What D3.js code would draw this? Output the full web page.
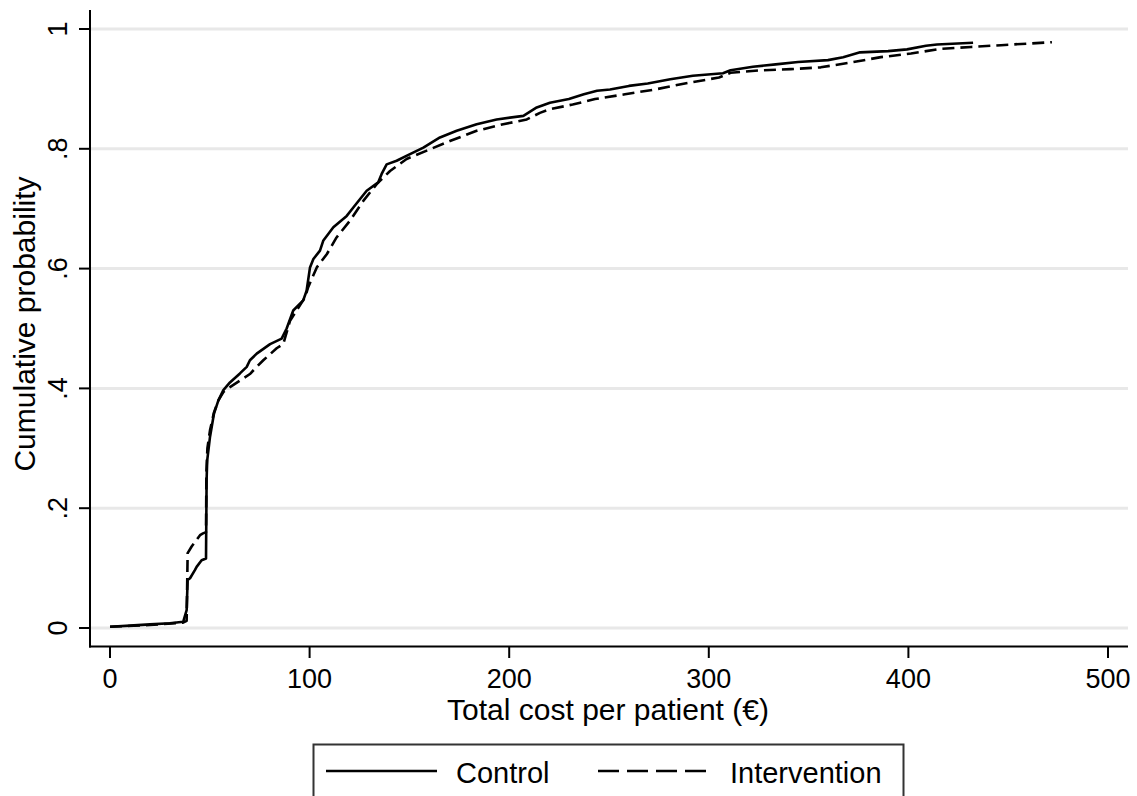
<!DOCTYPE html>
<html>
<head>
  <meta charset="utf-8">
  <title>Cumulative probability of total cost</title>
  <style>
    body { margin: 0; background: #fff; }
    svg { display: block; font-family: "Liberation Sans", Arial, sans-serif; }
    .grid line { stroke: #e8e8e8; stroke-width: 3px; }
    .axis path, .axis line { stroke: #000; stroke-width: 2px; }
    .curve { fill: none; stroke: #000; stroke-width: 2.6px; stroke-linejoin: round; }
    .curve.dash { stroke-dasharray: 12 6; }
  </style>
</head>
<body>
  <svg id="chart"></svg>

  <script src="https://d3js.org/d3.v7.min.js"></script>
  <script>
    // cost (€) and cumulative probability
    const controlCost = [0, 10, 20, 30, 36.7, 38.4, 38.9, 40.1, 42.6, 43.4, 45.9, 48.1, 48.4, 48.7,
      50.1, 52.1, 54.3, 56.8, 60.1, 65.1, 68.5, 70.1, 73.5, 80.2, 86.0, 88.5, 91.8, 96.8, 98.5,
      100.2, 101.9, 105.2, 106.9, 111.9, 118.6, 121.9, 128.6, 134.4, 136.1, 138.6, 143.6, 150.3,
      157.0, 165.3, 173.7, 183.7, 193.7, 207.1, 213.8, 220.4, 229.9, 237.4, 244.0, 250.5, 260.0,
      269.4, 280.7, 292.0, 307.1, 310.9, 322.1, 333.5, 344.7, 359.7, 367.3, 375.8, 389.8, 399.3,
      408.8, 414.3, 432.4];
    const controlProb = [0.002, 0.004, 0.006, 0.008, 0.0105, 0.03, 0.08, 0.083, 0.097, 0.102, 0.113,
      0.116, 0.247, 0.28, 0.319, 0.358, 0.38, 0.397, 0.41, 0.425, 0.436, 0.447, 0.458, 0.474, 0.483,
      0.5, 0.53, 0.547, 0.563, 0.602, 0.616, 0.63, 0.647, 0.669, 0.688, 0.702, 0.73, 0.744, 0.758,
      0.774, 0.78, 0.791, 0.802, 0.819, 0.83, 0.841, 0.849, 0.855, 0.869, 0.877, 0.883, 0.891, 0.897,
      0.899, 0.905, 0.909, 0.916, 0.922, 0.926, 0.931, 0.937, 0.941, 0.945, 0.948, 0.953, 0.961,
      0.963, 0.966, 0.972, 0.974, 0.977];

    const interventionCost = [0, 20, 36.6, 38.4, 38.9, 40.9, 45.1, 46.6, 48.1, 48.3, 48.8, 50.1, 52.1,
      54.3, 56.8, 60.1, 65.1, 70.1, 73.5, 76.8, 83.5, 86.8, 90.2, 97.7, 99.3, 103.6, 108.6, 113.5,
      120.2, 126.9, 133.6, 140.3, 148.6, 158.7, 170.3, 183.7, 197.0, 208.8, 215.4, 220.4, 231.8,
      243.0, 258.0, 273.0, 288.0, 305.1, 310.9, 325.9, 341.0, 356.1, 371.2, 386.2, 401.3, 416.3,
      431.4, 446.4, 471.9];
    const interventionProb = [0.002, 0.005, 0.009, 0.012, 0.125, 0.136, 0.155, 0.158, 0.16, 0.26, 0.3,
      0.33, 0.36, 0.38, 0.394, 0.402, 0.413, 0.424, 0.436, 0.447, 0.467, 0.474, 0.513, 0.552, 0.569,
      0.602, 0.624, 0.652, 0.68, 0.713, 0.741, 0.763, 0.783, 0.797, 0.813, 0.83, 0.841, 0.849, 0.86,
      0.866, 0.874, 0.883, 0.891, 0.899, 0.909, 0.919, 0.927, 0.931, 0.933, 0.936, 0.944, 0.953,
      0.959, 0.967, 0.97, 0.973, 0.978];

    const xTicks = [0, 100, 200, 300, 400, 500];
    const yTicks = [0, 0.2, 0.4, 0.6, 0.8, 1];
    const yTickLabels = ["0", ".2", ".4", ".6", ".8", "1"];
    const seriesNames = ["Control", "Intervention"];

    const width = 1137, height = 796;
    const svg = d3.select("#chart").attr("width", width).attr("height", height);

    const x = d3.scaleLinear().domain([0, 500]).range([110, 1108]);
    const y = d3.scaleLinear().domain([0, 1]).range([628, 29]);
    const plotL = 90, plotR = 1128, plotT = 10, plotB = 646.5;

    // grid lines
    svg.append("g").attr("class", "grid")
      .selectAll("line").data(yTicks).enter().append("line")
      .attr("x1", plotL + 1).attr("x2", plotR)
      .attr("y1", d => y(d)).attr("y2", d => y(d));

    // axes
    svg.append("line")
      .attr("x1", plotL).attr("x2", plotL).attr("y1", plotT).attr("y2", plotB + 1)
      .style("stroke", "#000").style("stroke-width", 2);
    svg.append("line")
      .attr("x1", plotL - 1).attr("x2", plotR).attr("y1", plotB).attr("y2", plotB)
      .style("stroke", "#000").style("stroke-width", 2);

    const yAxis = svg.append("g").attr("class", "axis");
    yAxis.selectAll("line").data(yTicks).enter().append("line")
      .attr("x1", 79).attr("x2", plotL).attr("y1", d => y(d)).attr("y2", d => y(d));
    yAxis.selectAll("text").data(yTicks).enter().append("text")
      .attr("transform", d => `translate(67,${y(d)}) rotate(-90)`)
      .attr("text-anchor", "middle")
      .style("font-size", "27px")
      .text((d, i) => yTickLabels[i]);

    const xAxis = svg.append("g").attr("class", "axis");
    xAxis.selectAll("line").data(xTicks).enter().append("line")
      .attr("x1", d => x(d)).attr("x2", d => x(d)).attr("y1", plotB).attr("y2", 658);
    xAxis.selectAll("text").data(xTicks).enter().append("text")
      .attr("x", d => x(d)).attr("y", 688)
      .attr("text-anchor", "middle")
      .style("font-size", "27px")
      .text(d => d);

    // axis titles
    svg.append("text")
      .attr("x", 608).attr("y", 720)
      .attr("text-anchor", "middle")
      .style("font-size", "30px")
      .text("Total cost per patient (€)");
    svg.append("text")
      .attr("transform", "translate(35,324) rotate(-90)")
      .attr("text-anchor", "middle")
      .style("font-size", "30px")
      .text("Cumulative probability");

    // curves
    const line = d3.line().x(d => x(d[0])).y(d => y(d[1]));
    const control = controlCost.map((c, i) => [c, controlProb[i]]);
    const intervention = interventionCost.map((c, i) => [c, interventionProb[i]]);

    svg.append("path").datum(intervention).attr("class", "curve dash").attr("d", line);
    svg.append("path").datum(control).attr("class", "curve").attr("d", line);

    // legend
    const lg = svg.append("g");
    lg.append("rect")
      .attr("x", 313.5).attr("y", 744.5).attr("width", 590).attr("height", 80)
      .style("fill", "#fff").style("stroke", "#333").style("stroke-width", 2);
    lg.append("line").attr("x1", 326).attr("x2", 437).attr("y1", 771).attr("y2", 771)
      .style("stroke", "#000").style("stroke-width", 2.6);
    lg.append("text").attr("x", 456).attr("y", 783).style("font-size", "29px").text(seriesNames[0]);
    lg.append("line").attr("x1", 598).attr("x2", 709).attr("y1", 771).attr("y2", 771)
      .style("stroke", "#000").style("stroke-width", 2.6).style("stroke-dasharray", "21 8");
    lg.append("text").attr("x", 730).attr("y", 783).style("font-size", "29px").text(seriesNames[1]);
  </script>
</body>
</html>
